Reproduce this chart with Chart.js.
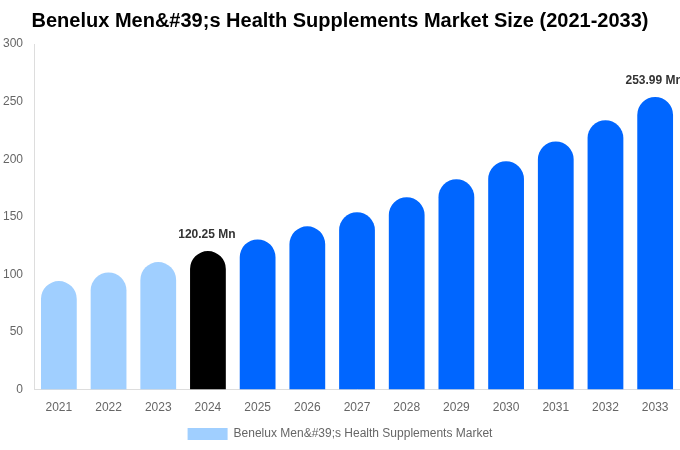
<!DOCTYPE html>
<html>
<head>
<meta charset="utf-8">
<script src="https://cdn.jsdelivr.net/npm/chart.js@4/dist/chart.umd.min.js"></script>
<style>
  html, body { margin: 0; padding: 0; background: #fff; }
  #wrap { width: 680px; height: 450px; }
</style>
</head>
<body>
<div id="wrap"><canvas id="chart"></canvas></div>
<script>
const years = ['2021', '2022', '2023', '2024', '2025', '2026', '2027', '2028', '2029', '2030', '2031', '2032', '2033'];
const marketSize = [94.2, 101.7, 110.7, 120.25, 130.4, 141.7, 154.0, 167.0, 182.6, 198.3, 215.4, 233.9, 253.99];
const yTicks = [0, 50, 100, 150, 200, 250, 300];
const labelledYears = ['2024', '2033'];

const barColors = years.map(y => {
  if (y < '2024') return '#a0cfff';
  if (y === '2024') return '#000000';
  return '#0066ff';
});

// draws "xxx Mn" above the picked bars
const valueLabels = {
  id: 'valueLabels',
  afterDatasetsDraw(chart) {
    const ctx = chart.ctx;
    const meta = chart.getDatasetMeta(0);
    ctx.save();
    ctx.font = 'bold 12px "Liberation Sans", Arial, sans-serif';
    ctx.fillStyle = '#333';
    ctx.textAlign = 'center';
    ctx.textBaseline = 'bottom';
    years.forEach((y, i) => {
      if (!labelledYears.includes(y)) return;
      const bar = meta.data[i];
      ctx.fillText(marketSize[i].toFixed(2) + ' Mn', bar.x - 1, bar.y - 10);
    });
    ctx.restore();
  }
};

new Chart(document.getElementById('chart'), {
  type: 'bar',
  data: {
    labels: years,
    datasets: [{
      label: 'Benelux Men&#39;s Health Supplements Market',
      data: marketSize,
      backgroundColor: barColors,
      borderRadius: 18,
      borderSkipped: 'bottom',
      barPercentage: 0.72,
      categoryPercentage: 1.0
    }]
  },
  options: {
    responsive: true,
    maintainAspectRatio: false,
    animation: false,
    layout: { padding: { top: 0, right: 0, left: 0, bottom: 0 } },
    plugins: {
      title: {
        display: true,
        text: 'Benelux Men&#39;s Health Supplements Market Size (2021-2033)',
        color: '#000',
        font: { family: '"Liberation Sans", Arial, sans-serif', size: 20, weight: 'bold' },
        padding: { top: 9, bottom: 11 }
      },
      legend: {
        position: 'bottom',
        labels: {
          color: '#666',
          boxWidth: 40,
          boxHeight: 12,
          font: { family: '"Liberation Sans", Arial, sans-serif', size: 12 },
          generateLabels: () => [{
            text: 'Benelux Men&#39;s Health Supplements Market',
            fillStyle: '#a0cfff',
            strokeStyle: '#a0cfff',
            lineWidth: 0,
            fontColor: '#666'
          }]
        }
      },
      tooltip: { enabled: false }
    },
    scales: {
      x: {
        grid: { display: false },
        border: { color: '#ddd' },
        ticks: { color: '#666', font: { family: '"Liberation Sans", Arial, sans-serif', size: 12 } }
      },
      y: {
        min: 0,
        max: 300,
        afterBuildTicks: axis => { axis.ticks = yTicks.map(v => ({ value: v })); },
        grid: { display: false },
        border: { color: '#ddd' },
        ticks: { color: '#666', font: { family: '"Liberation Sans", Arial, sans-serif', size: 12 } }
      }
    }
  },
  plugins: [valueLabels]
});
</script>
</body>
</html>
